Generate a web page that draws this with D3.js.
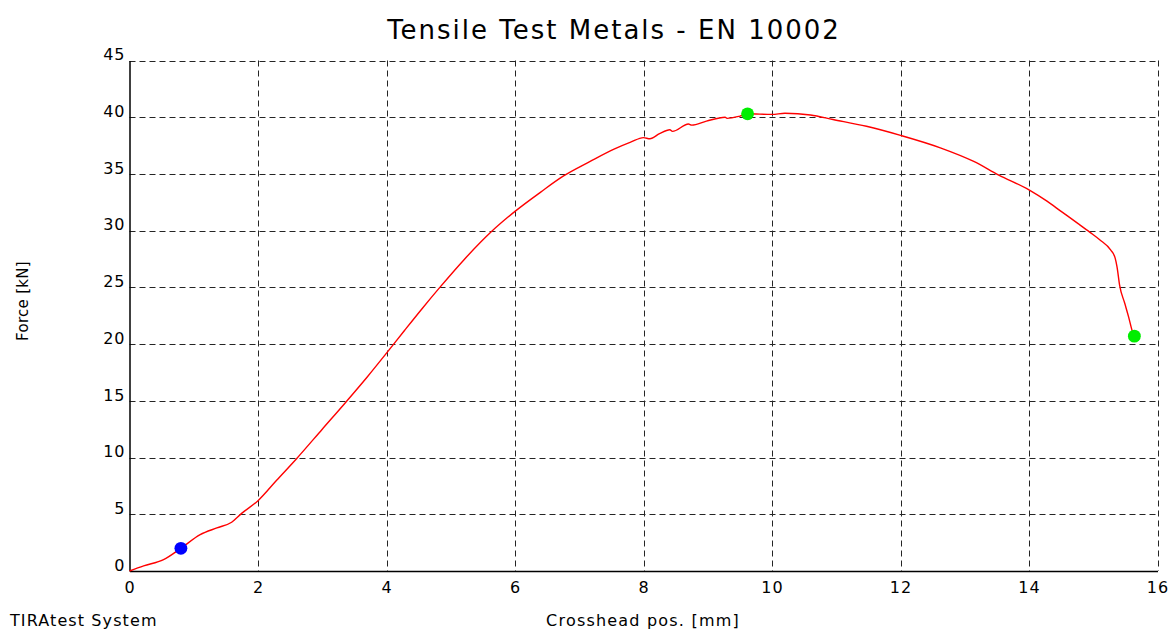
<!DOCTYPE html>
<html>
<head>
<meta charset="utf-8">
<script src="https://cdn.jsdelivr.net/npm/d3@7"></script>
<style>
  html, body { margin: 0; padding: 0; background: #fff; }
  svg { display: block; }
  text { font-family: "DejaVu Sans", "Liberation Sans", sans-serif; fill: #000; }
</style>
</head>
<body>
<svg id="chart" width="1171" height="630"></svg>
<script>
// ---- data ----
const chartTitle = "Tensile Test Metals - EN 10002";
const xLabel = "Crosshead pos. [mm]";
const yLabel = "Force [kN]";
const footer = "TIRAtest System";
const xTicks = [0, 2, 4, 6, 8, 10, 12, 14, 16];
const yTicks = [0, 5, 10, 15, 20, 25, 30, 35, 40, 45];
const position = [0, 0.22, 0.53, 0.80, 1.10, 1.36, 1.59, 1.75, 2.0, 2.29, 2.6, 3.0, 3.37, 3.7, 4.0, 4.28, 4.55, 4.83, 5.2, 5.63, 6.0, 6.4, 6.75, 7.17, 7.55, 7.8, 8.0, 8.1, 8.25, 8.41, 8.45, 8.7, 8.75, 8.98, 9.27, 9.3, 9.5, 9.62, 10.0, 10.2, 10.6, 10.95, 11.47, 12.0, 12.62, 13.14, 13.53, 14.0, 14.28, 14.5, 14.77, 14.95, 15.1, 15.27, 15.34, 15.37, 15.41, 15.49, 15.55, 15.61, 15.64];
const force = [0, 0.45, 1.0, 2.0, 3.2, 3.8, 4.3, 5.1, 6.2, 8.0, 9.9, 12.5, 14.9, 17.1, 19.2, 21.2, 23.1, 25.0, 27.4, 29.9, 31.7, 33.4, 34.8, 36.1, 37.2, 37.8, 38.2, 38.1, 38.55, 38.9, 38.75, 39.4, 39.3, 39.65, 40.0, 39.9, 40.1, 40.3, 40.25, 40.35, 40.2, 39.8, 39.2, 38.4, 37.3, 36.1, 34.9, 33.6, 32.6, 31.7, 30.6, 29.85, 29.2, 28.3, 27.6, 26.8, 25.2, 23.6, 22.4, 21.1, 20.7];
const markerX = [0.80, 9.62, 15.64];
const markerY = [2.0, 40.3, 20.7];
const markerColor = ["#0000ff", "#00ee00", "#00ee00"];

// ---- layout ----
const svg = d3.select("#chart");
const mLeft = 129.5, mRight = 1157.5, mTop = 60.5, mBottom = 571;
const x = d3.scaleLinear().domain([0, 16]).range([mLeft, mRight]);
const y = d3.scaleLinear().domain([0, 45]).range([mBottom, mTop]);

// grid
const grid = svg.append("g").attr("stroke", "#000").attr("stroke-width", 1).attr("stroke-dasharray", "6,4").attr("opacity", 0.85);
xTicks.filter(d => d > 0).forEach(t => {
  grid.append("line").attr("x1", Math.round(x(t)) + 0.5).attr("x2", Math.round(x(t)) + 0.5)
    .attr("y1", mTop).attr("y2", mBottom);
});
yTicks.filter(d => d > 0).forEach(t => {
  grid.append("line").attr("y1", Math.round(y(t)) + 0.5).attr("y2", Math.round(y(t)) + 0.5)
    .attr("x1", mLeft).attr("x2", mRight);
});

// axes (solid)
const xAxis = d3.axisBottom(x).tickValues(xTicks).tickSize(0).tickPadding(11).tickFormat(d3.format("d"));
const gx = svg.append("g").attr("transform", `translate(0,${mBottom})`).call(xAxis);
gx.select(".domain").attr("stroke", "#000").attr("stroke-width", 1.5);
gx.selectAll("text").attr("font-size", 16).attr("font-family", "DejaVu Sans, sans-serif")
  .attr("fill", "#000").attr("letter-spacing", 1);

const yAxis = d3.axisLeft(y).tickValues(yTicks).tickSize(0).tickPadding(4).tickFormat(d3.format("d"));
const gy = svg.append("g").attr("transform", `translate(${mLeft},0)`).call(yAxis);
gy.select(".domain").attr("stroke", "#000").attr("stroke-width", 1.5);
gy.selectAll("text").attr("font-size", 16).attr("font-family", "DejaVu Sans, sans-serif")
  .attr("fill", "#000").attr("dy", "-0.05em").attr("x", -4).attr("letter-spacing", 1);

// curve
const pts = position.map((p, i) => [p, force[i]]);
svg.append("path").datum(pts)
  .attr("fill", "none").attr("stroke", "#ff0000").attr("stroke-width", 1.4)
  .attr("d", d3.line().curve(d3.curveMonotoneX).x(d => x(d[0])).y(d => y(d[1])));

// markers
svg.selectAll(".mk").data(markerX).enter().append("path")
  .attr("class", "mk")
  .attr("transform", (d, i) => `translate(${x(d)},${y(markerY[i])})`)
  .attr("d", d3.symbol().type(d3.symbolCircle).size(130))
  .attr("fill", (d, i) => markerColor[i]);

// texts
svg.append("text").attr("x", 614).attr("y", 39).attr("text-anchor", "middle")
  .attr("font-size", 26).attr("letter-spacing", 2).text(chartTitle);
svg.append("text").attr("transform", "translate(28,301) rotate(-90)").attr("text-anchor", "middle")
  .attr("font-size", 15).attr("letter-spacing", 0.3).text(yLabel);
svg.append("text").attr("x", 643).attr("y", 626).attr("text-anchor", "middle")
  .attr("font-size", 16).attr("letter-spacing", 1.2).text(xLabel);
svg.append("text").attr("x", 10).attr("y", 626).attr("text-anchor", "start")
  .attr("font-size", 16).attr("letter-spacing", 1.1).text(footer);
</script>
</body>
</html>
